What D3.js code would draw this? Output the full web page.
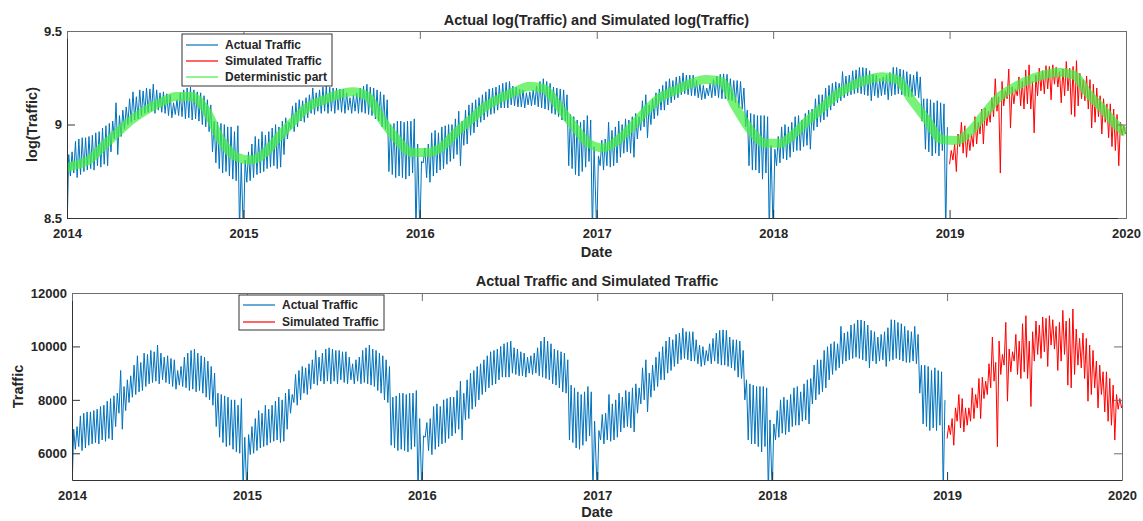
<!DOCTYPE html>
<html>
<head>
<meta charset="utf-8">
<title>Actual and Simulated Traffic</title>
<script src="https://d3js.org/d3.v7.min.js"></script>
<style>
  body { margin: 0; background: #fff; }
  svg text { font-family: "Liberation Sans", Arial, Helvetica, sans-serif; font-weight: bold; fill: #262626; }
</style>
</head>
<body>
<div id="chart"></div>
<script>

var width = 1143, height = 521;

// weekly envelope of the daily traffic (one row per year, 52 weeks)
var actualYears = [2014, 2015, 2016, 2017, 2018];
var actualHigh = [
  [6900,7000,7400,7500,7550,7550,7600,7650,7750,7800, 7950,8050,8150,8250,9100,8500,8750,8900,9300,9650,
   9400,9750,9700,9850,9800,10050,9750,9600,9650,9550, 9500,9100,9250,9600,9750,9850,9900,9750,9650,9600,
   9450,9250,9000,8250,8200,8150,8100,8000,8000,7800, 8050,6600],
  [6700,7000,7300,7600,7500,7800,7650,7800,7950,8100, 8000,8250,8400,8200,8950,9100,9250,9200,9350,9500,
   9850,9600,9750,9900,9950,9900,9850,9850,9800,9800, 9600,9350,9500,9600,9850,9950,10050,9900,9850,9750,
   9650,9500,9250,8100,8150,8250,8250,8200,8250,8250, 8350,7300],
  [6650,7150,7300,7750,7850,7750,8000,8050,8100,8100, 8350,8700,8250,8750,9000,9100,9250,9350,9500,9650,
   9800,9850,9900,10000,10100,10150,10200,9950,9900,9800, 9750,9600,9650,9750,9950,10200,10350,10200,10100,9900,
   9850,9800,9750,9500,8550,8450,8300,8200,8300,8500, 8300,7200],
  [6850,7450,7500,8200,7850,8000,8250,8100,8350,8300, 8450,8600,8450,9200,9500,9000,9300,9600,9800,9990,
   10200,10350,10250,10450,10500,10680,10550,10550,10550,10250, 10050,9990,9850,10100,10300,10500,10600,10620,10600,10350,
   10250,10250,10200,9850,8750,8600,8550,8500,8500,8500, 8450,7250],
  [7100,7600,8000,8100,8000,8200,8450,8500,8300,8600, 8750,8800,9300,9500,9500,9850,9990,10100,10180,10100,
   10750,10500,10550,10800,10850,10990,10990,10950,10800,10600, 10550,10350,10450,10550,10700,11000,10990,10900,10850,10750,
   10600,10550,10750,10450,9300,9300,9250,9100,9200,9100, 9050,7990]
];
var actualLow = [
  [4500,6150,6250,6100,6200,6300,6350,6400,6350,6500, 6450,6550,6500,7000,7500,6900,7600,7900,8100,8200,
   8300,8350,8500,8600,8650,8700,8600,8750,8650,8600, 8500,8400,8550,8500,8450,8350,8400,8300,8350,8250,
   8100,8000,7800,7000,6600,6400,6250,6300,6150,6050, 6000,4600],
  [4500,5950,6000,6100,6200,6250,6300,6400,6450,6500, 6400,6450,6900,7500,7900,7800,8000,8250,8200,8400,
   8600,8550,8700,8600,8700,8600,8700,8600,8750,8650, 8600,8750,8600,8700,8600,8650,8600,8550,8500,8350,
   8250,8000,7900,6300,6200,6100,6150,6100,6050,6150, 6250,4500],
  [4500,6600,6100,5950,6150,6250,6350,6400,6550,6650, 6750,6900,6500,7250,7300,7650,7750,8000,8200,8300,
   8450,8550,8600,8750,8850,8850,8850,9000,8950,8900, 8900,8850,9000,8950,9000,8900,8850,8800,8750,8600,
   8550,8450,8300,8250,6500,6400,6200,6150,6300,6450, 6650,4500],
  [4500,6500,6350,6500,6450,6500,6600,6800,6950,7000, 6950,6800,7500,7850,8000,7550,8100,8350,8500,8750,
   8750,9000,9100,9250,9350,9500,9550,9500,9450,9450, 9350,9250,9300,9450,9350,9450,9350,9300,9300,9250,
   9200,9100,8850,8800,8000,6500,6350,6350,6250,6050, 6250,4500],
  [4500,6500,6600,6750,6700,6800,7000,7050,7050,7200, 7250,7100,7850,8000,8200,8300,8450,8750,8950,9100,
   9200,9350,9450,9500,9550,9600,9550,9500,9450,9200, 9450,9350,9450,9500,9250,9450,9500,9550,9500,9450,
   9400,9400,9450,9350,8250,7100,7000,6850,6950,6850, 7050,4500]
];

// simulated 2019 (53 weeks so the line reaches the end of the year)
var simYear = 2019;
var simHigh = [7050,7300,7700,8200,8050,7700,7700,8450,8200,8800, 8850,8700,9350,10350,9400,10200,9700,10900,9900,9800,
  10450,10200,10850,11150,10200,10550,10950,10800,11100,11050, 11150,11000,10750,10900,11350,10950,11050,11400,10650,10300,
  10500,10300,10050,9850,9450,9300,9050,9050,8800,8550, 8200,8050,7900];
var simLow = [6550,6700,6300,7200,6950,6800,7050,7200,7300,7700, 7300,8050,8200,8450,8700,6250,8950,9300,7950,9050,
  9450,8950,8800,9050,8800,7750,9450,9700,9550,9800, 9250,10050,9900,9100,9450,9700,8550,8450,8950,9300,
  9200,8800,7950,8200,8450,7700,8200,7550,7200,7050, 6500,7650,7700];

// deterministic part of log(traffic): 1 Jan 2014, mid-month values 2014-2019, 1 Jan 2020
var detLog = [8.77,
  8.78,8.81,8.88,8.955,9.025,9.08,9.12,9.15,9.15,9.08,8.92,8.83,
  8.81,8.85,8.935,9.02,9.095,9.13,9.16,9.175,9.15,9.025,8.92,8.85,
  8.85,8.88,8.955,9.025,9.095,9.14,9.175,9.205,9.19,9.095,8.99,8.90,
  8.875,8.92,8.99,9.08,9.15,9.185,9.22,9.24,9.23,9.095,8.97,8.90,
  8.90,8.955,9.025,9.095,9.165,9.21,9.24,9.255,9.24,9.13,9.025,8.92,
  8.915,8.97,9.06,9.15,9.20,9.24,9.265,9.28,9.265,9.165,9.08,8.99,
  8.955];

var yearTicks = [2014, 2015, 2016, 2017, 2018, 2019, 2020];
var logTicks = [8.5, 9, 9.5];
var trafficTicks = [6000, 8000, 10000, 12000];

var blue = '#0072bd', red = '#ff0000', green = '#44ee44';

// low point at start of week, high point half a week later
function weekly(year, lows, highs) {
  var pts = [];
  for (var i = 0; i < lows.length; i++) {
    pts.push({ date: new Date(year, 0, 1 + 7 * i), v: lows[i] });
    pts.push({ date: new Date(year, 0, 1 + 7 * i, 84), v: highs[i] });
  }
  return pts;
}

var actual = [];
actualYears.forEach(function(y, k) {
  actual = actual.concat(weekly(y, actualLow[k], actualHigh[k]));
});
var simulated = weekly(simYear, simLow, simHigh);
var deterministic = detLog.map(function(v, i) {
  var d;
  if (i === 0) d = new Date(2014, 0, 1);
  else if (i === detLog.length - 1) d = new Date(2020, 0, 1);
  else d = new Date(2014, i - 1, 15);
  return { date: d, v: v };
});

var svg = d3.select('#chart').append('svg')
  .attr('width', width)
  .attr('height', height);

function panel(o) {
  var x = d3.scaleTime()
    .domain([new Date(2014, 0, 1), new Date(2020, 0, 1)])
    .range([o.left, o.right]);
  var y = d3.scaleLinear().domain(o.domain).range([o.bottom, o.top]);
  var g = svg.append('g');

  g.append('clipPath').attr('id', o.id + '-clip')
    .append('rect')
    .attr('x', o.left).attr('y', o.top)
    .attr('width', o.right - o.left).attr('height', o.bottom - o.top);

  var plot = g.append('g').attr('clip-path', 'url(#' + o.id + '-clip)');
  var line = d3.line()
    .x(function(d) { return x(d.date); })
    .y(function(d) { return y(o.f(d.v)); });

  plot.append('path').datum(actual)
    .attr('d', line).attr('fill', 'none')
    .attr('stroke', blue).attr('stroke-width', 1);
  plot.append('path').datum(simulated)
    .attr('d', line).attr('fill', 'none')
    .attr('stroke', red).attr('stroke-width', 1);

  if (o.det) {
    var detLine = d3.line()
      .curve(d3.curveMonotoneX)
      .x(function(d) { return x(d.date); })
      .y(function(d) { return y(d.v); });
    plot.append('path').datum(deterministic)
      .attr('d', detLine).attr('fill', 'none')
      .attr('stroke', green).attr('stroke-width', 9)
      .attr('stroke-opacity', 0.72)
      .attr('stroke-linecap', 'butt');
  }

  var xTicks = yearTicks.map(function(yr) { return new Date(yr, 0, 1); });

  var bottomAxis = g.append('g')
    .attr('transform', 'translate(0,' + o.bottom + ')')
    .call(d3.axisBottom(x).tickValues(xTicks).tickFormat(d3.timeFormat('%Y'))
      .tickSizeInner(-8).tickSizeOuter(0).tickPadding(11));
  var leftAxis = g.append('g')
    .attr('transform', 'translate(' + o.left + ',0)')
    .call(d3.axisLeft(y).tickValues(o.ticks).tickFormat(o.fmt)
      .tickSizeInner(-8).tickSizeOuter(0).tickPadding(5));
  var topAxis = g.append('g')
    .attr('transform', 'translate(0,' + o.top + ')')
    .call(d3.axisTop(x).tickValues(xTicks).tickFormat('')
      .tickSizeInner(-8).tickSizeOuter(0));
  var rightAxis = g.append('g')
    .attr('transform', 'translate(' + o.right + ',0)')
    .call(d3.axisRight(y).tickValues(o.ticks).tickFormat('')
      .tickSizeInner(-8).tickSizeOuter(0));

  [bottomAxis, leftAxis].forEach(function(a) {
    a.attr('color', '#333').attr('font-size', 13);
  });
  [topAxis, rightAxis].forEach(function(a) {
    a.attr('color', '#6e6e6e');
  });

  g.append('text')
    .attr('x', (o.left + o.right) / 2).attr('y', o.titleY)
    .attr('text-anchor', 'middle').style('font-size', '14.5px')
    .text(o.title);
  g.append('text')
    .attr('x', (o.left + o.right) / 2).attr('y', o.dateY)
    .attr('text-anchor', 'middle').style('font-size', '14.5px')
    .text('Date');
  g.append('text')
    .attr('transform', 'translate(' + o.ylabX + ',' + ((o.top + o.bottom) / 2) + ') rotate(-90)')
    .attr('text-anchor', 'middle').style('font-size', '14.5px')
    .text(o.ylabel);

  // legend
  var lg = g.append('g');
  lg.append('rect')
    .attr('x', o.legend.x).attr('y', o.legend.y)
    .attr('width', o.legend.w).attr('height', o.legend.h)
    .attr('fill', '#fff').attr('stroke', '#333').attr('stroke-width', 1);
  o.legend.items.forEach(function(it, i) {
    var cy = o.legend.y + o.legend.first + i * o.legend.step;
    lg.append('line')
      .attr('x1', o.legend.x + 4).attr('x2', o.legend.x + 36)
      .attr('y1', cy).attr('y2', cy)
      .attr('stroke', it.color).attr('stroke-width', 1.2);
    lg.append('text')
      .attr('x', o.legend.x + 43).attr('y', cy + 4.3)
      .style('font-size', '12px')
      .text(it.label);
  });
}

panel({
  id: 'top', left: 67, right: 1126, top: 31, bottom: 218,
  domain: [8.5, 9.5], ticks: logTicks, fmt: d3.format(''),
  f: Math.log, det: true,
  title: 'Actual log(Traffic) and Simulated log(Traffic)', titleY: 25, dateY: 257,
  ylabel: 'log(Traffic)', ylabX: 37,
  legend: { x: 182, y: 34, w: 150, h: 52, first: 11, step: 16,
    items: [{ label: 'Actual Traffic', color: blue },
            { label: 'Simulated Traffic', color: red },
            { label: 'Deterministic part', color: green }] }
});

panel({
  id: 'bottom', left: 72, right: 1122, top: 293, bottom: 480,
  domain: [5000, 12000], ticks: trafficTicks, fmt: d3.format('d'),
  f: function(v) { return v; }, det: false,
  title: 'Actual Traffic and Simulated Traffic', titleY: 286, dateY: 517,
  ylabel: 'Traffic', ylabX: 23,
  legend: { x: 239, y: 295, w: 145, h: 35, first: 10, step: 17,
    items: [{ label: 'Actual Traffic', color: blue },
            { label: 'Simulated Traffic', color: red }] }
});

</script>
</body>
</html>
